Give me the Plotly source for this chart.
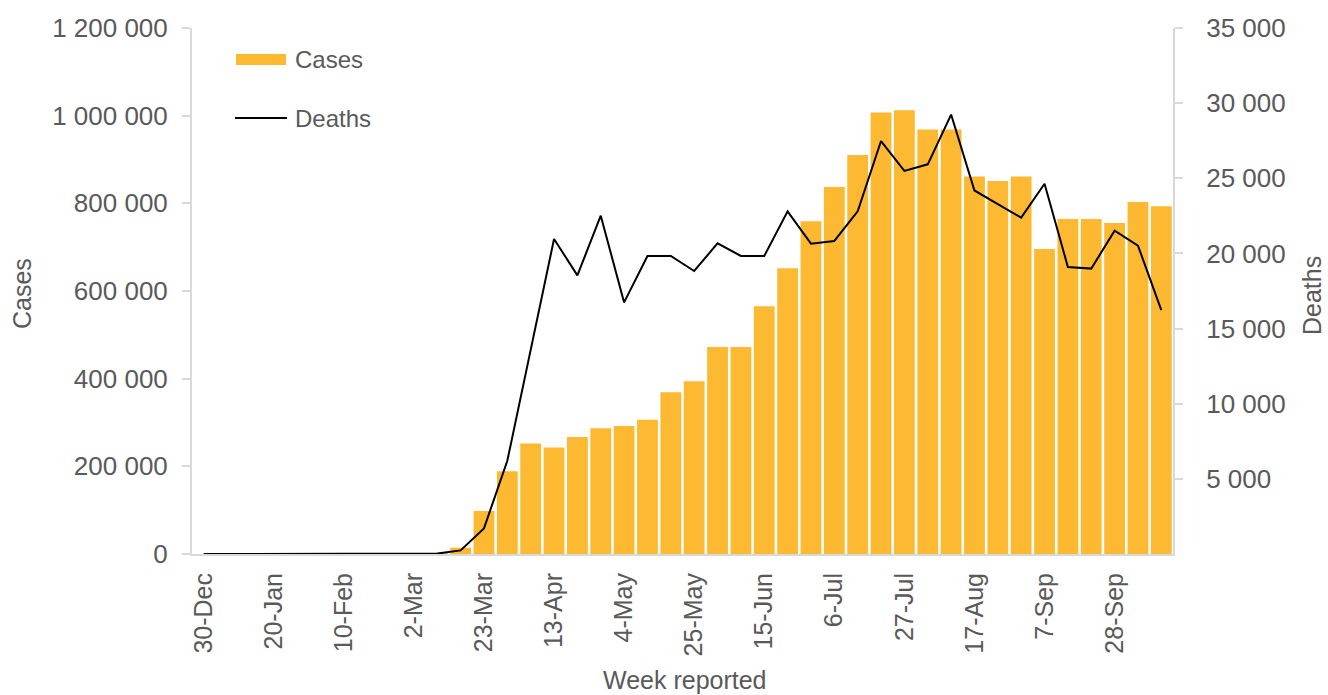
import plotly.graph_objects as go

weeks = ["30-Dec", "6-Jan", "13-Jan", "20-Jan", "27-Jan", "3-Feb", "10-Feb", "17-Feb",
         "24-Feb", "2-Mar", "9-Mar", "16-Mar", "23-Mar", "30-Mar", "6-Apr", "13-Apr",
         "20-Apr", "27-Apr", "4-May", "11-May", "18-May", "25-May", "1-Jun", "8-Jun",
         "15-Jun", "22-Jun", "29-Jun", "6-Jul", "13-Jul", "20-Jul", "27-Jul", "3-Aug",
         "10-Aug", "17-Aug", "24-Aug", "31-Aug", "7-Sep", "14-Sep", "21-Sep", "28-Sep",
         "5-Oct", "12-Oct"]

cases = [0, 0, 0, 0, 0, 0, 0, 0, 0, 200, 1500, 14400, 98000, 189000, 252000, 243000,
         267000, 287000, 292000, 306000, 369000, 394000, 472000, 472000, 565000, 652000,
         759000, 837000, 910000, 1007000, 1012500, 968500, 968500, 861000, 851000, 861000,
         696000, 764000, 764000, 755000, 803000, 793600]

deaths = [0, 0, 0, 0, 0, 0, 0, 0, 0, 10, 30, 240, 1700, 6200, 13600, 20960,
          18540, 22510, 16740, 19830, 19830, 18830, 20670, 19830, 19830, 22800,
          20650, 20830, 22800, 27480, 25490, 25930, 29240, 24190, 23280, 22380,
          24640, 19100, 18990, 21510, 20520, 16230]

case_ticks = [0, 200000, 400000, 600000, 800000, 1000000, 1200000]
death_ticks = [5000, 10000, 15000, 20000, 25000, 30000, 35000]
x_ticks = weeks[::3]

FONT = "Liberation Sans"
GREY = "#595959"
AXIS = "#D9D9D9"
BAR = "#FDB931"

# plot area in page pixels (body margin removed below)
PL, PR, PT, PB = 192, 1173, 28, 554
PW, PH = PR - PL, PB - PT


def px(x):
    return (x - PL) / PW


def py(y):
    return (PB - y) / PH


fig = go.Figure()
fig.add_trace(go.Bar(x=weeks, y=cases, name="Cases", marker_color=BAR,
                     marker_line_width=0, showlegend=False))
fig.add_trace(go.Scatter(x=weeks, y=deaths, name="Deaths", mode="lines", yaxis="y2",
                         line=dict(color="black", width=2), showlegend=False))

shapes = [
    dict(type="rect", xref="paper", yref="paper", x0=px(236), x1=px(286),
         y0=py(65), y1=py(54), fillcolor=BAR, line=dict(width=0)),
    dict(type="line", xref="paper", yref="paper", x0=px(235), x1=px(287),
         y0=py(118), y1=py(118), line=dict(color="black", width=2)),
]

annotations = [
    dict(text="Cases", xref="paper", yref="paper", x=px(293), y=py(60),
         xanchor="left", yanchor="middle", showarrow=False,
         font=dict(size=24, color=GREY)),
    dict(text="Deaths", xref="paper", yref="paper", x=px(293), y=py(118),
         xanchor="left", yanchor="middle", showarrow=False,
         font=dict(size=24, color=GREY)),
    dict(text="Cases", xref="paper", yref="paper", x=px(22), y=py(294),
         xanchor="center", yanchor="middle", showarrow=False, textangle=-90,
         font=dict(size=25, color=GREY)),
    dict(text="Deaths", xref="paper", yref="paper", x=px(1312), y=py(296),
         xanchor="center", yanchor="middle", showarrow=False, textangle=-90,
         font=dict(size=25, color=GREY)),
    dict(text="Week reported", xref="paper", yref="paper", x=px(685), y=py(680),
         xanchor="center", yanchor="middle", showarrow=False,
         font=dict(size=25, color=GREY)),
]

fig.update_layout(
    width=1328, height=695,
    margin=dict(l=PL, r=1328 - PR, t=PT, b=695 - PB),
    paper_bgcolor="white", plot_bgcolor="white",
    separators=". ",
    bargap=0.11,
    font=dict(family=FONT, size=25, color=GREY),
    showlegend=False,
    xaxis=dict(type="category", tickmode="array", tickvals=x_ticks, ticktext=x_ticks,
               tickangle=-90, showline=True, linecolor=AXIS, linewidth=2,
               ticks="", showgrid=False, tickfont=dict(size=25, color=GREY),
               ticklabelstandoff=7, range=[-0.5, len(weeks) - 0.5], automargin=False),
    yaxis=dict(range=[0, 1200000], tickmode="array", tickvals=case_ticks,
               tickformat=",d", showline=True, linecolor=AXIS, linewidth=2,
               ticks="outside", ticklen=8, tickcolor=AXIS, tickwidth=2,
               showgrid=False, zeroline=False, tickfont=dict(size=26, color=GREY),
               ticklabelstandoff=9, automargin=False),
    yaxis2=dict(range=[0, 35000], overlaying="y", side="right", tickmode="array",
                tickvals=death_ticks, tickformat=",d", showline=True, linecolor=AXIS,
                linewidth=2, ticks="outside", ticklen=8, tickcolor=AXIS, tickwidth=2,
                showgrid=False, zeroline=False, tickfont=dict(size=26, color=GREY),
                ticklabelstandoff=18, automargin=False),
    shapes=shapes,
    annotations=annotations,
)

fig.write_html("out.html",
               config={"displayModeBar": False},
               post_script="document.body.style.margin='0';"
                           "document.documentElement.style.overflow='hidden';")
